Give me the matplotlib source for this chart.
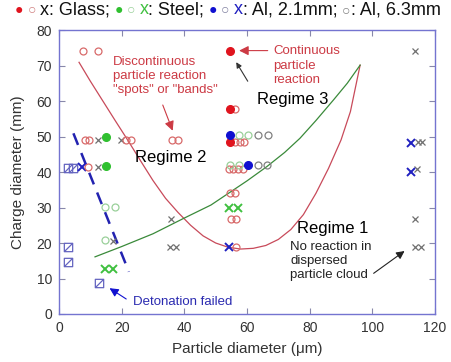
import matplotlib
matplotlib.use('Agg')
import matplotlib.pyplot as plt
from matplotlib.path import Path
from matplotlib.offsetbox import TextArea, HPacker, AnchoredOffsetbox

plt.rcParams['font.family'] = ['Liberation Sans', 'DejaVu Sans']

# data (particle diameter um, charge diameter mm)
glass_fill_x = [54.6, 54.6, 54.6]
glass_fill_y = [74.2, 57.7, 48.5]
glass_open_x = [7.7, 12.6, 8.3, 9.6, 21.5, 22.9, 36.0, 38.0, 9.4, 56.3, 56.2, 57.7, 59.2,
                54.3, 55.6, 57.0, 58.6, 54.6, 56.3, 54.8, 56.4, 56.4]
glass_open_y = [74.2, 74.2, 49.0, 49.0, 49.0, 49.0, 49.0, 49.0, 41.3, 57.7, 48.5, 48.5, 48.5,
                40.8, 40.8, 40.8, 40.8, 34.0, 34.0, 26.8, 26.8, 18.8]
steel_fill_x = [14.9, 14.9]
steel_fill_y = [49.8, 41.8]
steel_open_x = [14.7, 17.9, 14.7, 57.6, 60.4, 54.6, 57.5]
steel_open_y = [30.2, 30.2, 20.8, 50.4, 50.4, 42.1, 42.1]
steel_x_x = [14.6, 17.2, 54.3, 57.0]
steel_x_y = [12.7, 12.7, 29.8, 29.8]
al21_fill_x = [54.6, 60.4]
al21_fill_y = [50.4, 42.1]
al21_x_x = [7.5, 54.1, 112.3, 112.3]
al21_x_y = [41.5, 19.0, 48.1, 40.1]
al63_open_x = [63.5, 66.6, 63.5, 66.5]
al63_open_y = [50.4, 50.4, 42.1, 42.1]
gray_x_x = [12.6, 19.7, 12.6, 17.2, 35.6, 35.5, 37.5, 113.6, 114.5, 115.9, 114.1, 113.6, 113.6, 115.4]
gray_x_y = [49.0, 49.0, 41.5, 20.6, 26.7, 18.8, 18.8, 74.2, 48.5, 48.5, 40.8, 26.7, 18.8, 18.8]
failed_x = [2.8, 4.6, 3.0, 3.0, 12.8]
failed_y = [41.0, 41.0, 18.8, 14.7, 8.6]

red_curve_x = [6.4, 10, 14, 18, 22, 26, 30, 34, 38, 42, 46, 50, 54, 58, 62, 66, 70, 74, 78, 82, 86, 90, 93, 96.1]
red_curve_y = [70.9, 65.6, 60.0, 54.4, 48.9, 43.2, 37.6, 32.6, 28.6, 25.0, 22.0, 20.0, 18.8, 18.3, 18.5, 19.3,
               21.0, 23.8, 28.0, 34.0, 41.0, 49.0, 57.0, 70.1]
green_curve_x = [11.5, 20, 30, 39.7, 48.5, 55.6, 60, 66.3, 72, 76.9, 82, 87.6, 92, 96.1]
green_curve_y = [16.1, 19.0, 22.6, 26.9, 30.7, 34.9, 37.5, 41.5, 45.5, 49.5, 54.5, 60.3, 65.0, 70.1]
dash_x = [4.6, 22.3]
dash_y = [50.9, 11.9]

fig = plt.figure(figsize=(4.52, 3.62), dpi=100)
ax = fig.add_axes([0.1305, 0.1326, 0.8319, 0.7845])

ax.plot(red_curve_x, red_curve_y, color='#c84a5a', lw=0.9)
ax.plot(green_curve_x, green_curve_y, color='#3a8a3a', lw=0.9)
ax.plot(dash_x, dash_y, color='#2222b0', lw=1.8, dashes=(5, 3.5))

# square with a diagonal for the failed shots
sq = Path([(-1, -1), (1, -1), (1, 1), (-1, 1), (-1, -1), (-1, -1), (1, 1)],
          [Path.MOVETO, Path.LINETO, Path.LINETO, Path.LINETO, Path.CLOSEPOLY, Path.MOVETO, Path.LINETO])
ax.plot(failed_x, failed_y, ls='none', marker=sq, ms=6, mfc='none', mec='#6464c0', mew=0.9)

ax.plot(gray_x_x, gray_x_y, ls='none', marker='x', ms=5, color='#707070', mew=0.9)
ax.plot(al21_x_x, al21_x_y, ls='none', marker='x', ms=5.5, color='#2020c0', mew=1.4)
ax.plot(steel_x_x, steel_x_y, ls='none', marker='x', ms=5.5, color='#40c040', mew=1.4)
ax.plot(glass_open_x, glass_open_y, ls='none', marker='o', ms=5, mfc='none', mec='#d86a6a', mew=0.9)
ax.plot(steel_open_x, steel_open_y, ls='none', marker='o', ms=5, mfc='none', mec='#9ad09a', mew=0.9)
ax.plot(al63_open_x, al63_open_y, ls='none', marker='o', ms=5, mfc='none', mec='#808080', mew=0.9)
ax.plot(glass_fill_x, glass_fill_y, ls='none', marker='o', ms=5.5, color='#e0141e')
ax.plot(steel_fill_x, steel_fill_y, ls='none', marker='o', ms=5.5, color='#30c030')
ax.plot(al21_fill_x, al21_fill_y, ls='none', marker='o', ms=5.5, color='#1010d0')

red = '#cc3a44'
ax.text(17.1, 67.1, 'Discontinuous\nparticle reaction\n"spots" or "bands"', color=red,
        fontsize=9.5, va='center', ha='left', linespacing=1.2)
ax.annotate('', xy=(36.6, 50.9), xytext=(32.8, 59.6),
            arrowprops=dict(arrowstyle='-|>', color=red, lw=0.8, mutation_scale=14))
ax.text(68.4, 70.0, 'Continuous\nparticle\nreaction', color=red,
        fontsize=9.5, va='center', ha='left', linespacing=1.25)
ax.annotate('', xy=(56.6, 74.2), xytext=(67.5, 74.2),
            arrowprops=dict(arrowstyle='-|>', color=red, lw=0.8, mutation_scale=14))
ax.annotate('', xy=(56.1, 71.6), xytext=(60.7, 64.9),
            arrowprops=dict(arrowstyle='-|>', color='#333333', lw=0.8, mutation_scale=8))

ax.text(35.7, 44.0, 'Regime 2', fontsize=12, ha='center', va='center')
ax.text(74.6, 60.5, 'Regime 3', fontsize=12, ha='center', va='center')
ax.text(75.9, 24.1, 'Regime 1', fontsize=12, ha='left', va='center')
ax.text(73.8, 15.0, 'No reaction in\ndispersed\nparticle cloud', fontsize=9.5,
        ha='left', va='center', linespacing=1.2, color='#222222')
ax.annotate('', xy=(111.0, 18.2), xytext=(99.7, 11.0),
            arrowprops=dict(arrowstyle='-|>', color='#222222', lw=0.8, mutation_scale=12))

blue = '#2a2ab0'
ax.text(23.6, 3.3, 'Detonation failed', color=blue, fontsize=9.5, ha='left', va='center')
ax.annotate('', xy=(15.4, 7.7), xytext=(22.2, 3.8),
            arrowprops=dict(arrowstyle='-|>', color='#1010d0', lw=0.8, mutation_scale=13))

ax.set_xlim(0, 120)
ax.set_ylim(0, 80)
ax.set_xticks(range(0, 121, 20))
ax.set_yticks(range(0, 81, 10))
ax.tick_params(direction='in', top=True, right=True, length=4, color='#8888aa',
               labelsize=10, labelcolor='#333333', pad=5)
for s in ax.spines.values():
    s.set_color('#7474d0')
    s.set_linewidth(1.0)
ax.set_xlabel('Particle diameter (\u03bcm)', fontsize=11, color='#333333', labelpad=5)
ax.set_ylabel('Charge diameter (mm)', fontsize=11, color='#333333', labelpad=8)

# coloured legend line at the top
parts = [('\u25cf ', '#e0141e'), ('\u25cb ', '#d08080'), ('x: Glass; ', '#111111'),
         ('\u25cf ', '#30c030'), ('\u25cb ', '#9ad09a'), ('x', '#40c040'), (': Steel; ', '#111111'),
         ('\u25cf ', '#1010d0'), ('\u25cb ', '#8080a0'), ('x', '#2020c0'), (': Al, 2.1mm; ', '#111111'),
         ('\u25cb', '#808080'), (': Al, 6.3mm', '#111111')]
boxes = []
for txt, col in parts:
    fs = 10 if txt.strip() in ('\u25cf', '\u25cb') else 13
    boxes.append(TextArea(txt, textprops=dict(color=col, fontsize=fs,
                                              family=['Liberation Sans', 'DejaVu Sans'])))
pack = HPacker(children=boxes, align='baseline', pad=0, sep=0)
anc = AnchoredOffsetbox(loc='center', child=pack, frameon=False, pad=0, borderpad=0,
                        bbox_to_anchor=(228 / 452, 1 - 10 / 362), bbox_transform=fig.transFigure)
fig.add_artist(anc)

fig.savefig('out.png', dpi=100)
